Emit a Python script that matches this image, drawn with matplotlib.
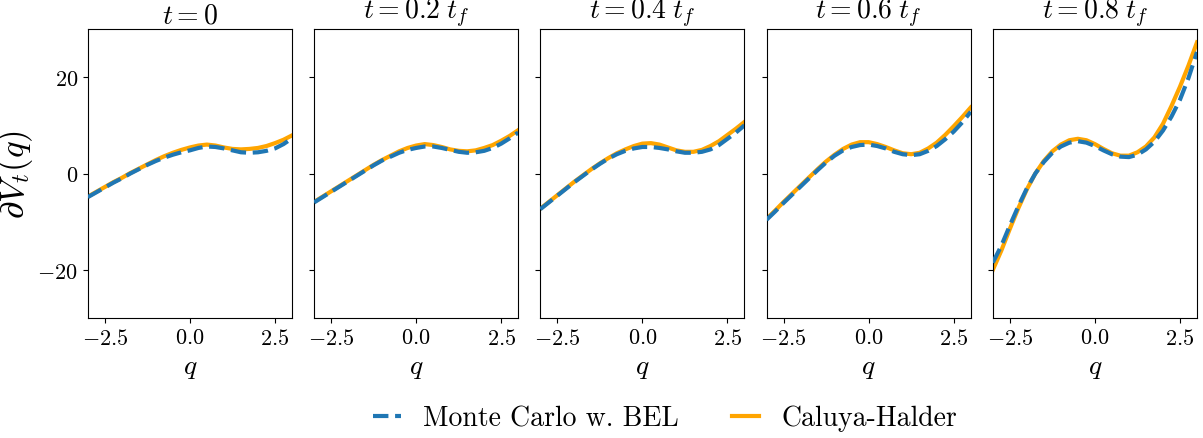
import matplotlib
matplotlib.use("Agg")
import matplotlib.pyplot as plt

plt.rcParams["font.family"] = ["cmr10", "DejaVu Serif"]
plt.rcParams["mathtext.fontset"] = "cm"
plt.rcParams["axes.formatter.use_mathtext"] = True

q = [-3.0, -2.75, -2.5, -2.25, -2.0, -1.75, -1.5, -1.25, -1.0, -0.75, -0.5, -0.25,
     0.0, 0.25, 0.5, 0.75, 1.0, 1.25, 1.5, 1.75, 2.0, 2.25, 2.5, 2.75, 3.0]

titles = [r"$t=0$", r"$t=0.2\;t_f$", r"$t=0.4\;t_f$", r"$t=0.6\;t_f$", r"$t=0.8\;t_f$"]

# Monte Carlo w. BEL
mc_t0 = [-4.9, -3.9, -2.9, -1.9, -1.0, 0.0, 0.9, 1.8, 2.6, 3.3, 3.9, 4.4,
         4.8, 5.3, 5.6, 5.5, 5.2, 4.8, 4.4, 4.3, 4.4, 4.7, 5.2, 6.1, 7.3]
mc_t02 = [-6.0, -4.9, -3.8, -2.7, -1.6, -0.5, 0.6, 1.7, 2.7, 3.5, 4.3, 4.9,
          5.3, 5.6, 5.6, 5.3, 4.9, 4.5, 4.3, 4.4, 4.7, 5.3, 6.2, 7.3, 8.5]
mc_t04 = [-7.4, -6.0, -4.6, -3.2, -1.8, -0.5, 0.8, 2.0, 3.1, 4.0, 4.7, 5.2,
          5.5, 5.5, 5.3, 5.0, 4.6, 4.3, 4.3, 4.5, 5.0, 5.9, 7.2, 8.5, 10.0]
mc_t06 = [-9.6, -7.9, -6.1, -4.4, -2.7, -1.0, 0.7, 2.3, 3.7, 4.8, 5.5, 5.9,
          6.0, 5.7, 5.2, 4.5, 4.0, 3.8, 4.0, 4.7, 5.7, 7.1, 8.7, 10.6, 12.8]
mc_t08 = [-18.5, -15.0, -10.8, -6.8, -3.1, 0.0, 2.4, 4.3, 5.6, 6.4, 6.7, 6.4,
          5.7, 4.8, 4.0, 3.5, 3.4, 3.9, 5.0, 6.6, 8.9, 11.8, 15.3, 19.8, 25.2]

# Caluya-Halder
ch_t0 = [-4.8, -3.8, -2.8, -1.8, -0.9, 0.1, 1.0, 1.9, 2.8, 3.6, 4.3, 4.9,
         5.4, 5.8, 6.0, 5.8, 5.4, 5.1, 5.0, 5.1, 5.3, 5.7, 6.3, 7.0, 7.9]
ch_t02 = [-5.9, -4.8, -3.7, -2.6, -1.5, -0.4, 0.7, 1.8, 2.8, 3.7, 4.6, 5.3,
          5.8, 6.1, 5.9, 5.5, 5.0, 4.7, 4.6, 4.8, 5.3, 5.9, 6.8, 7.8, 9.0]
ch_t04 = [-7.3, -5.9, -4.5, -3.1, -1.7, -0.4, 0.9, 2.1, 3.2, 4.2, 5.0, 5.7,
          6.2, 6.3, 6.0, 5.4, 4.8, 4.5, 4.5, 4.9, 5.7, 6.7, 8.0, 9.3, 10.7]
ch_t06 = [-9.4, -7.7, -5.9, -4.2, -2.5, -0.8, 0.9, 2.5, 3.9, 5.1, 6.0, 6.5,
          6.5, 6.1, 5.5, 4.8, 4.2, 4.0, 4.3, 5.2, 6.4, 8.0, 9.8, 11.7, 13.7]
ch_t08 = [-20.0, -16.0, -11.5, -7.2, -3.3, 0.0, 2.6, 4.6, 6.0, 6.9, 7.2, 6.9,
          6.1, 5.1, 4.2, 3.7, 3.7, 4.4, 5.6, 7.5, 10.3, 14.0, 18.0, 22.4, 27.2]

mc_all = [mc_t0, mc_t02, mc_t04, mc_t06, mc_t08]
ch_all = [ch_t0, ch_t02, ch_t04, ch_t06, ch_t08]

fig, axes = plt.subplots(1, 5, figsize=(12.03, 4.39), dpi=100, sharey=True)
fig.subplots_adjust(left=0.073, right=0.995, top=0.932, bottom=0.273, wspace=0.108)

for i, ax in enumerate(axes):
    ax.plot(q, mc_all[i], "--", color="tab:blue", lw=3, zorder=3, label="Monte Carlo w. BEL")
    ax.plot(q, ch_all[i], "-", color="orange", lw=3, zorder=2, label="Caluya-Halder")
    ax.set_xlim(-3, 3)
    ax.set_ylim(-30, 30)
    ax.set_xticks([-2.5, 0.0, 2.5])
    ax.set_yticks([-20, 0, 20])
    ax.tick_params(labelsize=16)
    ax.set_title(titles[i], fontsize=20, pad=4)
    ax.set_xlabel(r"$q$", fontsize=20)

axes[0].set_ylabel(r"$\partial V_t(q)$", fontsize=25, labelpad=2)

handles, labels = axes[0].get_legend_handles_labels()
fig.legend(handles, labels, loc="center", bbox_to_anchor=(0.553, 0.045), ncol=2,
           frameon=False, fontsize=20, handlelength=1.0, handletextpad=0.8,
           columnspacing=1.9)

fig.savefig("out.png", dpi=100)
